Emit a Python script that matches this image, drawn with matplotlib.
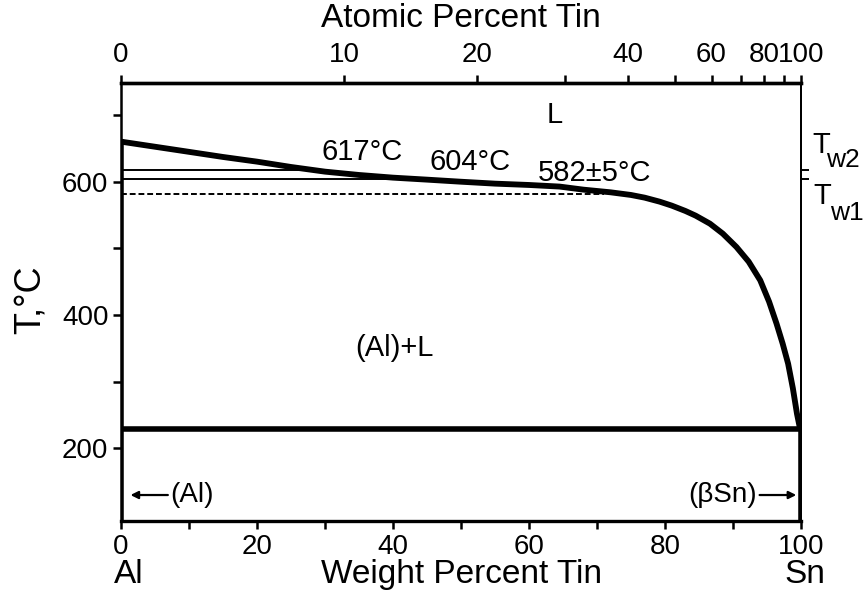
import matplotlib
matplotlib.use('Agg')
import matplotlib.pyplot as plt
import numpy as np

plt.rcParams['font.family'] = ['Liberation Sans', 'DejaVu Sans']

# liquidus (wt% Sn, deg C)
liq_wt = [0, 8.5, 15, 20, 25, 30, 35, 40, 45, 49.8, 55, 60, 64.5, 68, 72, 75, 77, 79.2,
          81, 83, 84.5, 86.6, 88.5, 90.5, 92.3, 94, 95.3, 96.4, 97.3, 98.1, 98.8, 99.4, 99.8]
liq_T = [660, 647, 637, 630, 622, 615, 610, 606, 603, 600, 597, 595, 592.6, 588, 584, 580, 576, 570,
         564, 556, 549, 537, 522, 502, 480, 452, 420, 387, 357, 327, 290, 252, 232]

eutectic_T = 228.3
T_w2, T_w1, T_dash = 617, 604, 582
w2_end, w1_end, dash_end = 29, 42, 71

wt_ticks = [0, 20, 40, 60, 80, 100]
at_ticks = [0, 10, 20, 30, 40, 50, 60, 70, 80, 90, 100]
at_labels = ['0', '10', '20', '', '40', '', '60', '', '80', '', '100']

M_SN, M_AL = 118.71, 26.98


def wt_to_at(w):
    w = np.clip(np.asarray(w, dtype=float), 0, 100)
    a = w / M_SN
    b = (100 - w) / M_AL
    return 100 * a / (a + b)


def at_to_wt(x):
    x = np.clip(np.asarray(x, dtype=float), 0, 100)
    a = x * M_SN
    b = (100 - x) * M_AL
    return 100 * a / (a + b)


fig = plt.figure(figsize=(8.63, 5.96), dpi=100)
ax = fig.add_axes([0.1402, 0.1258, 0.788, 0.735])

ax.plot(liq_wt, liq_T, color='black', lw=4.2, solid_capstyle='round', solid_joinstyle='round')
ax.plot([0, 100], [eutectic_T, eutectic_T], color='black', lw=4.0)
ax.plot([0, 0], [660, 91], color='black', lw=4.0)
ax.plot([100, 100], [eutectic_T, 91], color='black', lw=4.0)
ax.plot([0, w2_end], [T_w2, T_w2], color='black', lw=1.4)
ax.plot([0, w1_end], [T_w1, T_w1], color='black', lw=1.4)
ax.plot([0, dash_end], [T_dash, T_dash], color='black', lw=1.4, ls=(0, (3, 1.5)))

ax.set_xlim(0, 100)
ax.set_ylim(91, 748)

for side in ['top', 'bottom']:
    ax.spines[side].set_linewidth(2.4)
ax.spines['left'].set_linewidth(1.8)
ax.spines['right'].set_linewidth(1.4)

ax.set_xticks(wt_ticks)
ax.set_xticks(range(10, 100, 20), minor=True)
ax.set_yticks([200, 400, 600])
ax.set_yticks([300, 500, 700], minor=True)
ax.tick_params(which='both', direction='out', width=1.8, length=6, labelsize=20,
               top=False, right=False)
ax.tick_params(axis='x', pad=3)
ax.tick_params(axis='y', pad=3)

ax.set_xlabel('Weight Percent Tin', fontsize=24, va='center')
ax.xaxis.set_label_coords(0.5, -0.123)
ax.set_ylabel('T,°C', fontsize=26, va='center')
ax.yaxis.set_label_coords(-0.134, 0.505)

secax = ax.secondary_xaxis('top', functions=(wt_to_at, at_to_wt))
secax.set_xticks(at_ticks)
secax.set_xticklabels(at_labels)
secax.tick_params(direction='out', length=6, width=1.8, labelsize=20, pad=5)
secax.spines['top'].set_linewidth(2.4)
secax.set_xlabel('Atomic Percent Tin', fontsize=24, va='center')
secax.xaxis.set_label_coords(0.5, 1.148, transform=ax.transAxes)

secy = ax.secondary_yaxis('right')
secy.set_yticks([T_w1, T_w2])
secy.set_yticklabels(['', ''])
secy.tick_params(direction='out', length=6, width=1.4)
secy.spines['right'].set_linewidth(1.4)

ax.text(101.6, 655, 'T', fontsize=21, ha='left', va='center', clip_on=False)
ax.text(103.7, 632, 'w2', fontsize=19, ha='left', va='center', clip_on=False)
ax.text(101.8, 578, 'T', fontsize=21, ha='left', va='center', clip_on=False)
ax.text(104.2, 553, 'w1', fontsize=19, ha='left', va='center', clip_on=False)

ax.text(63.8, 700, 'L', fontsize=21, ha='center', va='center')
ax.text(35.5, 644, '617°C', fontsize=21, ha='center', va='center')
ax.text(51.3, 630, '604°C', fontsize=21, ha='center', va='center')
ax.text(69.7, 613, '582±5°C', fontsize=21, ha='center', va='center')
ax.text(40.2, 350, '(Al)+L', fontsize=21, ha='center', va='center')

ax.annotate('(Al)', xy=(1.4, 130), xytext=(7.3, 130), fontsize=20, ha='left', va='center',
            arrowprops=dict(arrowstyle='-|>', color='black', lw=1.6, mutation_scale=11,
                            shrinkA=0, shrinkB=0))
ax.annotate('(βSn)', xy=(99.3, 130), xytext=(93.5, 130), fontsize=20, ha='right', va='center',
            arrowprops=dict(arrowstyle='-|>', color='black', lw=1.6, mutation_scale=11,
                            shrinkA=0, shrinkB=0))

trans = ax.get_xaxis_transform()
ax.text(1.2, -0.123, 'Al', fontsize=24, ha='center', va='center', transform=trans, clip_on=False)
ax.text(100.6, -0.123, 'Sn', fontsize=24, ha='center', va='center', transform=trans, clip_on=False)

fig.savefig('out.png', dpi=100)
